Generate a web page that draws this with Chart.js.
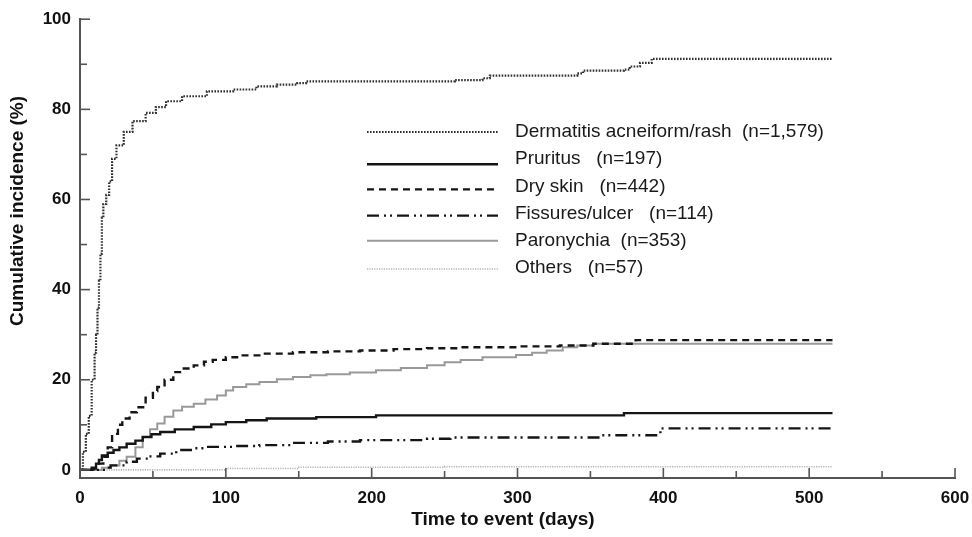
<!DOCTYPE html>
<html>
<head>
<meta charset="utf-8">
<script src="https://cdn.jsdelivr.net/npm/chart.js@4.4.0/dist/chart.umd.min.js"></script>
<style>
body { margin: 0; background: #fff; }
#box { width: 972px; height: 537px; }
</style>
</head>
<body>
<div id="box"><canvas id="kmchart"></canvas></div>
<script>
// series names and sizes
const names = ['Dermatitis acneiform/rash', 'Pruritus', 'Dry skin', 'Fissures/ulcer', 'Paronychia', 'Others'];
const counts = ['1,579', '197', '442', '114', '353', '57'];

// step curves: days and cumulative incidence (%)
const rashDays = [0, 2, 4, 6, 8, 10, 11, 12, 13, 14, 15, 16, 18, 20, 22, 25, 30, 36, 45, 52, 59, 70, 87, 105, 121, 135, 149, 155, 257, 276, 281, 341, 345, 373, 377, 384, 392, 516];
const rashVals = [0, 4, 8, 12, 20, 26, 30, 36, 42, 48, 56, 59, 61, 64, 69, 72, 75, 77.4, 79.2, 80.5, 81.8, 82.9, 84, 84.4, 85.1, 85.5, 85.8, 86.2, 86.5, 86.9, 87.5, 88, 88.6, 88.8, 89.5, 90.3, 91.2, 91.2];

const pruritusDays = [0, 9, 11, 13, 15, 19, 23, 27, 32, 38, 43, 49, 55, 65, 78, 90, 100, 114, 128, 162, 203, 373, 516];
const pruritusVals = [0, 0.3, 1.4, 2.2, 3.2, 3.8, 4.4, 5, 5.8, 6.5, 7.3, 7.9, 8.4, 9, 9.5, 10.1, 10.6, 11, 11.4, 11.7, 12.1, 12.6, 12.6];

const drySkinDays = [0, 8, 13, 16, 19, 22, 26, 29, 34, 39, 45, 50, 53, 58, 64, 70, 78, 85, 91, 100, 110, 125, 146, 170, 192, 215, 238, 261, 300, 329, 352, 381, 516];
const drySkinVals = [0, 0.5, 1.4, 2.9, 5, 8, 10, 11.4, 12.8, 13.9, 16, 17.5, 18.4, 20, 21.7, 22.5, 23.2, 24, 24.4, 25, 25.4, 25.8, 26.1, 26.3, 26.5, 26.8, 27, 27.2, 27.4, 27.6, 28, 28.8, 28.8];

const fissureDays = [0, 14, 18, 21, 32, 39, 47, 55, 66, 76, 87, 105, 123, 146, 170, 192, 238, 254, 357, 398, 516];
const fissureVals = [0, 0, 0.5, 1, 1.8, 2.5, 3, 3.6, 4.4, 4.8, 5.1, 5.3, 5.5, 6, 6.3, 6.6, 6.9, 7.2, 7.7, 9.2, 9.2];

const paroDays = [0, 9, 15, 21, 27, 32, 38, 43, 48, 53, 58, 64, 70, 78, 86, 94, 100, 105, 114, 123, 135, 146, 158, 169, 185, 203, 220, 238, 250, 261, 276, 299, 310, 320, 331, 341, 352, 516];
const paroVals = [0, 0, 0.5, 1, 2, 2.9, 5, 7.3, 9, 10.3, 11.8, 13.2, 14, 14.7, 15.6, 16.5, 17.6, 18.4, 19, 19.5, 20.1, 20.6, 21, 21.2, 21.6, 22.1, 22.6, 23.2, 23.9, 24.4, 25, 25.5, 26, 26.5, 27.2, 27.6, 28, 28];

const otherDays = [0, 100, 150, 250, 516];
const otherVals = [0, 0.3, 0.6, 0.7, 0.7];

const xTicks = [0, 100, 200, 300, 400, 500, 600];
const yTicks = [0, 20, 40, 60, 80, 100];

function pts(days, vals) {
    const out = [];
    for (var i = 0; i < days.length; i++)
        out.push({x: days[i], y: vals[i]});
    return out;
}

function makeSet(i, days, vals, color, width, dash) {
    return {
        label: names[i],
        data: pts(days, vals),
        borderColor: color,
        borderWidth: width,
        borderDash: dash,
        stepped: true,
        pointRadius: 0,
        fill: false
    };
}

const fontName = '"Liberation Sans", Arial, Helvetica, sans-serif';

// inward tick marks, axis titles and the in-plot legend
const extras = {
    id: 'extras',
    afterDraw(chart) {
        const ctx = chart.ctx;
        const xs = chart.scales.x, ys = chart.scales.y;
        const area = chart.chartArea;
        ctx.save();
        ctx.strokeStyle = '#555';
        ctx.lineWidth = 1.6;
        for (var v = 0; v <= 100; v += 10) {
            const py = ys.getPixelForValue(v);
            ctx.beginPath();
            ctx.moveTo(area.left, py);
            ctx.lineTo(area.left + (v % 20 == 0 ? 10 : 7), py);
            ctx.stroke();
        }
        for (var d = 0; d <= 600; d += 50) {
            const px = xs.getPixelForValue(d);
            ctx.beginPath();
            ctx.moveTo(px, area.bottom);
            ctx.lineTo(px, area.bottom - (d % 100 == 0 ? 10 : 7));
            ctx.stroke();
        }

        // axis titles
        ctx.fillStyle = '#111';
        ctx.font = 'bold 19px ' + fontName;
        ctx.textAlign = 'center';
        ctx.textBaseline = 'middle';
        ctx.fillText('Time to event (days)', 503, 520);
        ctx.save();
        ctx.translate(18, 211);
        ctx.rotate(-Math.PI / 2);
        ctx.fillText('Cumulative incidence (%)', 0, 0);
        ctx.restore();

        // legend
        ctx.font = '19px ' + fontName;
        ctx.textAlign = 'left';
        ctx.fillStyle = '#1a1a1a';
        const lineOff = [0, 5, 3, 2, 0, 1];
        const gaps = ['  ', '   ', '   ', '   ', '  ', '   '];
        chart.data.datasets.forEach(function(ds, i) {
            const ty = 132 + i * 27.2;
            ctx.save();
            ctx.strokeStyle = ds.borderColor;
            ctx.lineWidth = ds.borderWidth;
            ctx.setLineDash(ds.borderDash || []);
            ctx.beginPath();
            ctx.moveTo(367, ty + lineOff[i]);
            ctx.lineTo(498, ty + lineOff[i]);
            ctx.stroke();
            ctx.restore();
            ctx.fillText(ds.label + gaps[i] + '(n=' + counts[i] + ')', 515, ty);
        });
        ctx.restore();
    }
};

const ctx = document.getElementById('kmchart');
new Chart(ctx, {
    type: 'line',
    data: {
        datasets: [
            makeSet(0, rashDays, rashVals, '#2e2e2e', 2.2, [1.6, 1.4]),
            makeSet(1, pruritusDays, pruritusVals, '#151515', 2.4, []),
            makeSet(2, drySkinDays, drySkinVals, '#151515', 2.4, [7, 5]),
            makeSet(3, fissureDays, fissureVals, '#151515', 2.4, [12, 5, 2, 4, 2, 5]),
            makeSet(4, paroDays, paroVals, '#999999', 2, []),
            makeSet(5, otherDays, otherVals, '#b4b4b4', 1.6, [1.2, 1.2])
        ]
    },
    options: {
        responsive: true,
        maintainAspectRatio: false,
        animation: false,
        layout: { padding: { top: 17, right: 17, left: 0, bottom: 0 } },
        plugins: {
            legend: { display: false },
            tooltip: { enabled: false }
        },
        scales: {
            x: {
                type: 'linear',
                min: 0,
                max: 600,
                afterFit: function(s) { s.height = 59; s.paddingLeft = 0; s.paddingRight = 0; },
                afterBuildTicks: function(s) { s.ticks = xTicks.map(function(v) { return {value: v}; }); },
                grid: { display: false, drawTicks: false },
                border: { color: '#555', width: 2 },
                ticks: { padding: 10, color: '#111', font: { family: fontName, size: 17, weight: 'bold' }, maxRotation: 0 }
            },
            y: {
                type: 'linear',
                min: -1.8,
                max: 100,
                afterFit: function(s) { s.width = 80; },
                afterBuildTicks: function(s) { s.ticks = yTicks.map(function(v) { return {value: v}; }); },
                grid: { display: false, drawTicks: false },
                border: { color: '#555', width: 2 },
                ticks: { padding: 9, color: '#111', font: { family: fontName, size: 17, weight: 'bold' } }
            }
        }
    },
    plugins: [extras]
});
</script>
</body>
</html>
